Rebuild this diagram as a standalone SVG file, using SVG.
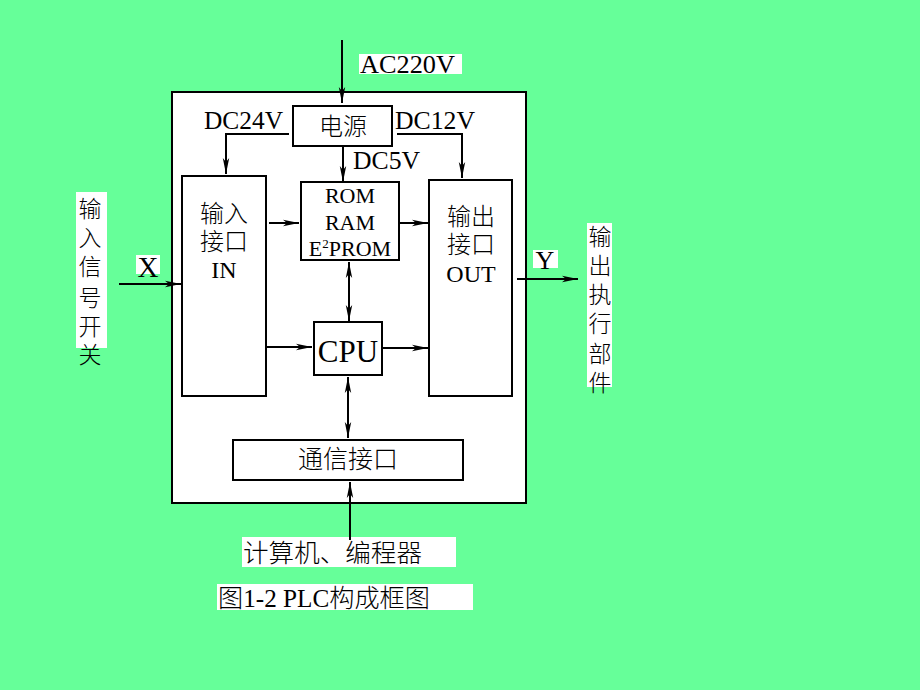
<svg xmlns="http://www.w3.org/2000/svg" width="920" height="690" viewBox="0 0 920 690">
<defs>
<marker id="ah" viewBox="0 0 16 8" refX="16" refY="4" markerWidth="16" markerHeight="8" markerUnits="userSpaceOnUse" orient="auto-start-reverse">
<path d="M0,0.8 L16,4 L0,7.2 L4,4 Z" fill="#000"/>
</marker>
</defs>
<style>
.box{fill:#fff;stroke:#000;stroke-width:2}
.ar{fill:none;stroke:#000;stroke-width:2;marker-end:url(#ah)}
.da{fill:none;stroke:#000;stroke-width:2;marker-end:url(#ah);marker-start:url(#ah)}
.t{font-family:"Liberation Serif","Noto Sans CJK SC",serif;fill:#000}
.c{font-family:"Noto Sans CJK SC",sans-serif;fill:#000;font-weight:300}
.bg{fill:#fff}
</style>
<rect width="920" height="690" fill="#66FF99"/>
<g id="plc">
<rect x="172" y="92" width="354" height="411" class="box"/>
</g>
<g id="power">
<rect x="293" y="106" width="99" height="40" class="box"/>
<text x="343" y="135" class="c" font-size="24" text-anchor="middle">电源</text>
</g>
<g id="input">
<rect x="182" y="176" width="84" height="220" class="box"/>
<text x="224" y="222" class="c" font-size="24" text-anchor="middle">输入</text>
<text x="224" y="250" class="c" font-size="24" text-anchor="middle">接口</text>
<text x="224" y="278" class="t" font-size="24" text-anchor="middle">IN</text>
</g>
<g id="memory">
<rect x="301" y="182" width="98" height="78" class="box"/>
<text x="350" y="203" class="t" font-size="22" text-anchor="middle">ROM</text>
<text x="350" y="230" class="t" font-size="22" text-anchor="middle">RAM</text>
<text x="350" y="256" class="t" font-size="22" text-anchor="middle">E<tspan font-size="13" dy="-8">2</tspan><tspan dy="8">PROM</tspan></text>
</g>
<g id="output">
<rect x="429" y="180" width="83" height="216" class="box"/>
<text x="471" y="225" class="c" font-size="24" text-anchor="middle">输出</text>
<text x="471" y="253" class="c" font-size="24" text-anchor="middle">接口</text>
<text x="471" y="282" class="t" font-size="24" text-anchor="middle">OUT</text>
</g>
<g id="cpu">
<rect x="314" y="322" width="68" height="53" class="box"/>
<text x="348" y="362" class="t" font-size="31" text-anchor="middle">CPU</text>
</g>
<g id="comm">
<rect x="233" y="440" width="230" height="40" class="box"/>
<text x="348" y="468" class="c" font-size="25" text-anchor="middle">通信接口</text>
</g>
<g id="labels">
<rect x="359" y="54" width="103" height="20" class="bg"/>
<text x="360" y="73" class="t" font-size="25" textLength="95" lengthAdjust="spacingAndGlyphs">AC220V</text>
<text x="204" y="129" class="t" font-size="25" textLength="79" lengthAdjust="spacingAndGlyphs">DC24V</text>
<text x="395" y="129" class="t" font-size="25" textLength="80" lengthAdjust="spacingAndGlyphs">DC12V</text>
<text x="353" y="169" class="t" font-size="25" textLength="67" lengthAdjust="spacingAndGlyphs">DC5V</text>
<rect x="76" y="192" width="31" height="156" class="bg"/>
<text class="c" font-size="23" text-anchor="middle">
<tspan x="90" y="217">输</tspan><tspan x="90" y="246">入</tspan><tspan x="90" y="275">信</tspan><tspan x="90" y="306">号</tspan><tspan x="90" y="335">开</tspan><tspan x="90" y="363">关</tspan>
</text>
<rect x="136" y="255" width="24" height="19" class="bg"/>
<text x="148" y="277" class="t" font-size="29" text-anchor="middle">X</text>
<rect x="533" y="250" width="25" height="18" class="bg"/>
<text x="545" y="269" class="t" font-size="26" text-anchor="middle">Y</text>
<rect x="587" y="223" width="25" height="164" class="bg"/>
<text class="c" font-size="23" text-anchor="middle">
<tspan x="600" y="245">输</tspan><tspan x="600" y="274">出</tspan><tspan x="600" y="303">执</tspan><tspan x="600" y="332">行</tspan><tspan x="600" y="362">部</tspan><tspan x="600" y="391">件</tspan>
</text>
<rect x="242" y="537" width="214" height="30" class="bg"/>
<text x="243" y="562" class="c" font-size="25" textLength="179" lengthAdjust="spacingAndGlyphs">计算机、编程器</text>
<rect x="217" y="584" width="256" height="26" class="bg"/>
<text x="218" y="607" class="t" font-size="25" textLength="212" lengthAdjust="spacingAndGlyphs"><tspan class="c">图</tspan>1-2 PLC<tspan class="c">构成框图</tspan></text>
</g>
<g id="connectors">
<line x1="342" y1="40" x2="342" y2="103" class="ar"/>
<polyline points="289,134 226,134 226,174" class="ar"/>
<polyline points="397,134 462,134 462,178" class="ar"/>
<line x1="343" y1="146" x2="343" y2="182" class="ar"/>
<line x1="269" y1="223" x2="299" y2="223" class="ar"/>
<line x1="400" y1="223" x2="428" y2="223" class="ar"/>
<line x1="267" y1="347" x2="312" y2="347" class="ar"/>
<line x1="383" y1="348" x2="428" y2="348" class="ar"/>
<line x1="349" y1="262" x2="349" y2="321" class="da"/>
<line x1="348" y1="377" x2="348" y2="438" class="da"/>
<line x1="350" y1="540" x2="350" y2="482" class="ar"/>
<line x1="119" y1="284" x2="181" y2="284" class="ar"/>
<line x1="517" y1="279" x2="578" y2="279" class="ar"/>
</g>
</svg>
